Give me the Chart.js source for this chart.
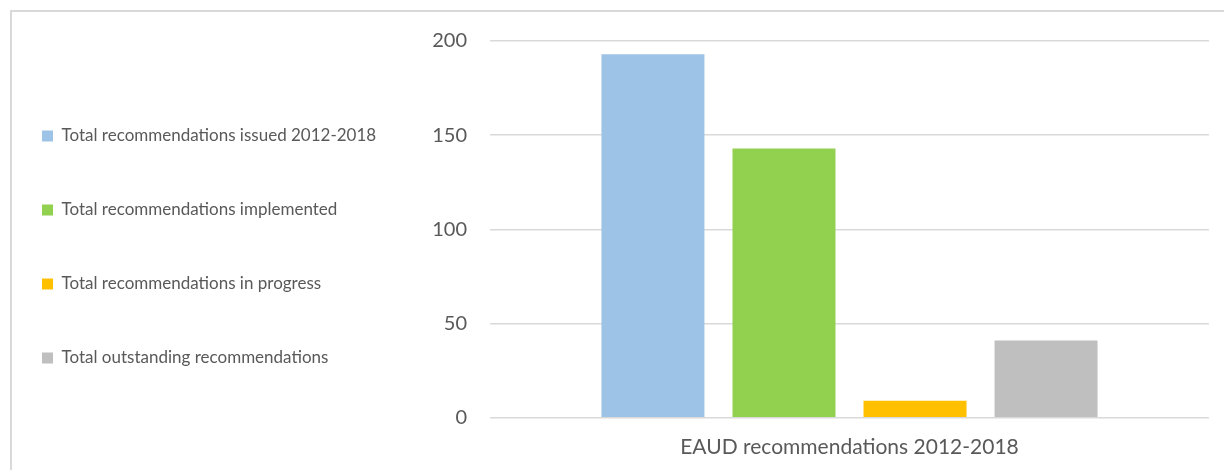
<!DOCTYPE html>
<html>
<head>
<meta charset="utf-8">
<script src="https://cdn.jsdelivr.net/npm/chart.js@4"></script>
<style>
    html, body { margin: 0; padding: 0; background: #fff; overflow: hidden; }
    .frame {
        position: absolute;
        left: 10px;
        top: 10px;
        width: 1240px;
        height: 480px;
        border: 2px solid #d9d9d9;
    }
    .wrap {
        position: absolute;
        left: 0;
        top: 0;
        width: 1224px;
        height: 470px;
    }
</style>
</head>
<body>
<div class="frame"></div>
<div class="wrap"><canvas id="recChart"></canvas></div>
<script>
// Chart data
const categories = ['EAUD recommendations 2012-2018'];
const seriesNames = [
    'Total recommendations issued 2012-2018',
    'Total recommendations implemented',
    'Total recommendations in progress',
    'Total outstanding recommendations'
];
const issued = [193];
const implemented = [143];
const inProgress = [9];
const outstanding = [41];
const yTicks = [0, 50, 100, 150, 200];

const colors = ['#9dc3e6', '#92d050', '#ffc000', '#bfbfbf'];
const values = [issued, implemented, inProgress, outstanding];

const datasets = seriesNames.map(function(name, i) {
    return {
        label: name,
        data: values[i],
        backgroundColor: colors[i],
        borderWidth: 0,
        categoryPercentage: 0.729,
        barPercentage: 0.786
    };
});

const legendLeft = -15;

const ctx = document.getElementById('recChart').getContext('2d');
const recChart = new Chart(ctx, {
    type: 'bar',
    data: {
        labels: categories,
        datasets: datasets
    },
    options: {
        responsive: true,
        maintainAspectRatio: false,
        animation: false,
        layout: {
            padding: { left: legendLeft, top: 41, right: 15, bottom: 1 }
        },
        scales: {
            x: {
                grid: { display: false },
                border: { display: false },
                ticks: {
                    color: '#595959',
                    padding: 9,
                    font: { family: 'Lato', size: 21 }
                }
            },
            y: {
                min: 0,
                max: 200,
                afterBuildTicks: function(scale) {
                    scale.ticks = yTicks.map(function(v) { return { value: v }; });
                },
                afterFit: function(scale) {
                    // plot area starts at x=490 like the original
                    scale.width = 490 - (legendLeft + scale.chart.legend.width);
                },
                grid: {
                    color: '#d9d9d9',
                    lineWidth: 1.5,
                    drawTicks: false
                },
                border: { display: false },
                ticks: {
                    color: '#595959',
                    padding: 23,
                    font: { family: 'Lato', size: 20 }
                }
            }
        },
        plugins: {
            legend: {
                position: 'left',
                align: 'start',
                title: {
                    display: true,
                    text: '',
                    font: { size: 10 },
                    padding: { top: 17.5, bottom: 0 }
                },
                labels: {
                    color: '#595959',
                    boxWidth: 11,
                    boxHeight: 11,
                    padding: 57,
                    font: { family: 'Lato', size: 17 }
                }
            },
            tooltip: { enabled: false }
        }
    }
});

// let the legend be wider than half the canvas
const legendBox = recChart.legend;
const origUpdate = legendBox.update.bind(legendBox);
legendBox.update = function(maxWidth, maxHeight, margins) {
    origUpdate(480, maxHeight, margins);
};
recChart.update();
</script>
</body>
</html>
